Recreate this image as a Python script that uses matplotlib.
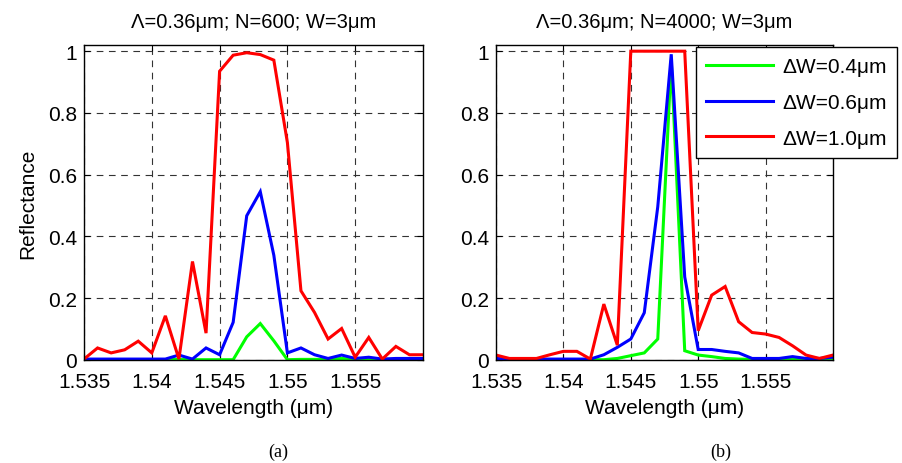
import numpy as np
import matplotlib
matplotlib.use("Agg")
import matplotlib.pyplot as plt

plt.rcParams['font.family'] = ['Liberation Sans', 'DejaVu Sans']
plt.rcParams['mathtext.fontset'] = 'custom'

wavelength = [1.535, 1.536, 1.537, 1.538, 1.539, 1.540, 1.541, 1.542, 1.543, 1.544,
              1.545, 1.546, 1.547, 1.548, 1.549, 1.550, 1.551, 1.552, 1.553, 1.554,
              1.555, 1.556, 1.557, 1.558, 1.559, 1.560]

# (a) N=600
a_dw04 = [0.001, 0.001, 0.001, 0.001, 0.001, 0.001, 0.001, 0.002, 0.001, 0.001,
          0.001, 0.001, 0.075, 0.118, 0.062, 0.001, 0.002, 0.002, 0.002, 0.005,
          0.002, 0.002, 0.002, 0.002, 0.002, 0.002]
a_dw06 = [0.003, 0.003, 0.003, 0.003, 0.003, 0.003, 0.003, 0.016, 0.003, 0.039,
          0.017, 0.122, 0.467, 0.545, 0.339, 0.023, 0.039, 0.017, 0.005, 0.016,
          0.005, 0.009, 0.003, 0.005, 0.005, 0.005]
a_dw10 = [0.003, 0.039, 0.023, 0.033, 0.061, 0.023, 0.143, 0.003, 0.319, 0.087,
          0.935, 0.987, 0.995, 0.989, 0.971, 0.704, 0.224, 0.154, 0.068, 0.102,
          0.009, 0.073, 0.003, 0.044, 0.017, 0.017]

# (b) N=4000
b_dw04 = [0.001, 0.001, 0.001, 0.001, 0.001, 0.001, 0.001, 0.001, 0.001, 0.005,
          0.014, 0.023, 0.068, 0.970, 0.030, 0.016, 0.011, 0.005, 0.003, 0.002,
          0.002, 0.002, 0.005, 0.002, 0.002, 0.002]
b_dw06 = [0.005, 0.003, 0.003, 0.003, 0.003, 0.003, 0.003, 0.003, 0.017, 0.041,
          0.068, 0.153, 0.496, 0.990, 0.269, 0.034, 0.034, 0.028, 0.023, 0.005,
          0.005, 0.005, 0.011, 0.005, 0.005, 0.009]
b_dw10 = [0.016, 0.005, 0.005, 0.005, 0.017, 0.028, 0.028, 0.003, 0.181, 0.048,
          1.000, 1.000, 1.000, 1.000, 1.000, 0.095, 0.210, 0.238, 0.124, 0.089,
          0.084, 0.073, 0.046, 0.016, 0.005, 0.016]

labels = ['ΔW=0.4μm', 'ΔW=0.6μm', 'ΔW=1.0μm']
colors = ['#00ff00', '#0000ff', '#ff0000']
xticks = [1.535, 1.54, 1.545, 1.55, 1.555]
xticklabels = ['1.535', '1.54', '1.545', '1.55', '1.555']
yticks = [0, 0.2, 0.4, 0.6, 0.8, 1.0]
yticklabels = ['0', '0.2', '0.4', '0.6', '0.8', '1']
titles = ['Λ=0.36μm; N=600; W=3μm', 'Λ=0.36μm; N=4000; W=3μm']

W, H = 903, 464
fig = plt.figure(figsize=(W / 100, H / 100), dpi=100)
ax1 = fig.add_axes([84 / W, 1 - 361 / H, (423 - 84) / W, (361 - 46) / H])
ax2 = fig.add_axes([496 / W, 1 - 361 / H, (833 - 496) / W, (361 - 46) / H])

fs = 15
for ax, series, title in [(ax1, [a_dw04, a_dw06, a_dw10], titles[0]),
                          (ax2, [b_dw04, b_dw06, b_dw10], titles[1])]:
    for y, c, lab in zip(series, colors, labels):
        ax.plot(wavelength, y, color=c, lw=2.2, label=lab, solid_joinstyle='miter')
    ax.set_xlim(1.535, 1.560)
    ax.set_ylim(0, 1.02)
    ax.set_xticks(xticks)
    ax.set_xticklabels(xticklabels)
    ax.set_yticks(yticks)
    ax.set_yticklabels(yticklabels)
    ax.tick_params(direction='in', length=4, width=0.8, top=True, right=True,
                   labelsize=fs)
    ax.tick_params(axis='x', pad=9)
    ax.tick_params(axis='y', pad=5)
    ax.grid(True, color='#333333', linestyle=(0, (6, 5)), lw=0.8)
    for sp in ax.spines.values():
        sp.set_linewidth(1.0)
        sp.set_color('black')
    ax.set_title(title, fontsize=14.5, pad=13)
    ax.set_xlabel('Wavelength (μm)', fontsize=fs, labelpad=5)

ax1.set_ylabel('Reflectance', fontsize=fs, labelpad=8)

leg = ax2.legend(loc='upper left', bbox_to_anchor=(696 / W, 1 - 48 / H),
                 bbox_transform=fig.transFigure, fontsize=fs, frameon=True,
                 fancybox=False, edgecolor='black', framealpha=1,
                 handlelength=3.2, handletextpad=0.45, borderpad=0.5,
                 labelspacing=0.8, borderaxespad=0)
leg.get_frame().set_linewidth(1.0)

fig.text(278 / W, 1 - 452 / H, '(a)', fontsize=13, family='Liberation Serif',
         ha='center', va='center')
fig.text(721 / W, 1 - 452 / H, '(b)', fontsize=13, family='Liberation Serif',
         ha='center', va='center')

fig.savefig('out.png', dpi=100)
